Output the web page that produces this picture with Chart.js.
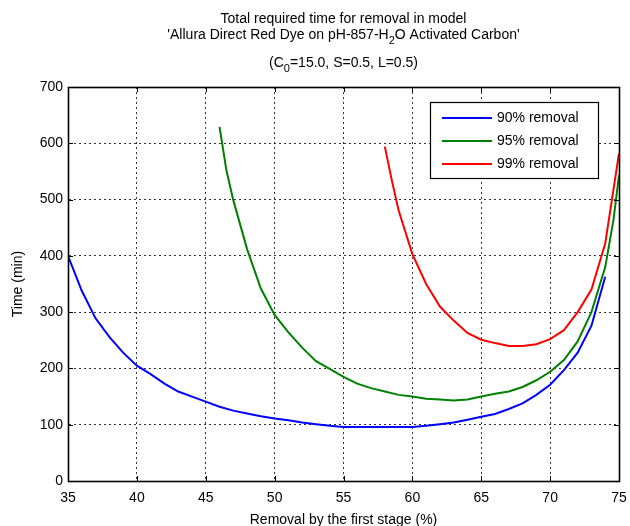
<!DOCTYPE html>
<html>
<head>
<meta charset="utf-8">
<script src="https://cdn.jsdelivr.net/npm/chart.js@4"></script>
<style>
  body { margin: 0; background: #fff; }
  #wrap { width: 630px; height: 526px; }
</style>
</head>
<body>
<div id="wrap"><canvas id="chartTime" width="630" height="526"></canvas></div>
<script>
// values
const blueX = [35,36,37,38,39,40,41,42,43,44,45,46,47,48,49,50,51,52,53,54,55,56,57,58,59,60,61,62,63,64,65,66,67,68,69,70,71,72,73,74];
const blueY = [400,338,289,256,228,205,190,173,159,150,141,132,125,120,115,111,108,104,101,98,96,96,96,96,96,96,98,101,104,109,114,119,128,138,153,171,197,228,276,363];

const greenX = [46,46.5,47,48,49,50,51,52,53,54,55,56,57,58,59,60,61,62,63,64,65,66,67,68,69,70,71,72,73,74,74.6,75];
const greenY = [629,552,499,412,342,295,264,237,213,199,185,173,165,159,153,150,146,145,143,145,150,155,159,167,179,194,215,248,300,380,464,543];

const redX = [58,58.5,59,60,61,62,63,64,65,66,67,68,69,70,71,72,73,74,75];
const redY = [594,535,481,403,350,310,285,263,251,245,240,240,243,252,268,300,340,422,582];

const seriesNames = ['90% removal', '95% removal', '99% removal'];
const seriesColors = ['#0000ff', '#008000', '#ff0000'];
const xTicks = [35,40,45,50,55,60,65,70,75];
const yTicks = [0,100,200,300,400,500,600,700];

const FONT = 'Liberation Sans, Arial, Helvetica, sans-serif';

function pairs(xs, ys) {
  return xs.map((x, i) => ({ x: x, y: ys[i] }));
}

// title with subscripts, drawn line by line
const titlePlugin = {
  id: 'titleLines',
  afterDraw(chart) {
    const ctx = chart.ctx;
    const area = chart.chartArea;
    const cx = (area.left + area.right) / 2;
    const lines = [
      { y: 23, parts: [['Total required time for removal in model', false]] },
      { y: 39, parts: [["'Allura Direct Red Dye on pH-857-H", false], ['2', true], ["O Activated Carbon'", false]] },
      { y: 67, parts: [['(C', false], ['0', true], ['=15.0, S=0.5, L=0.5)', false]] }
    ];
    ctx.save();
    ctx.fillStyle = '#000';
    ctx.textBaseline = 'alphabetic';
    ctx.textAlign = 'left';
    lines.forEach(line => {
      let w = 0;
      line.parts.forEach(p => {
        ctx.font = (p[1] ? 11 : 14) + 'px ' + FONT;
        w += ctx.measureText(p[0]).width;
      });
      let x = cx - w / 2;
      line.parts.forEach(p => {
        ctx.font = (p[1] ? 11 : 14) + 'px ' + FONT;
        ctx.fillText(p[0], x, line.y + (p[1] ? 5 : 0));
        x += ctx.measureText(p[0]).width;
      });
    });
    ctx.restore();
  }
};

// frame, inward ticks and legend box
const framePlugin = {
  id: 'frame',
  afterDraw(chart) {
    const ctx = chart.ctx;
    const a = chart.chartArea;
    const xs = chart.scales.x, ys = chart.scales.y;
    ctx.save();
    ctx.strokeStyle = '#000';
    ctx.lineWidth = 1.6;
    ctx.strokeRect(a.left + 0.5, a.top + 0.5, a.right - a.left, a.bottom - a.top);
    ctx.lineWidth = 1;
    ctx.beginPath();
    xTicks.forEach(v => {
      const px = Math.round(xs.getPixelForValue(v)) + 0.5;
      ctx.moveTo(px, a.bottom); ctx.lineTo(px, a.bottom - 5);
      ctx.moveTo(px, a.top); ctx.lineTo(px, a.top + 5);
    });
    yTicks.forEach(v => {
      const py = Math.round(ys.getPixelForValue(v)) + 0.5;
      ctx.moveTo(a.left, py); ctx.lineTo(a.left + 5, py);
      ctx.moveTo(a.right, py); ctx.lineTo(a.right - 5, py);
    });
    ctx.stroke();

    // legend
    const lx = 430, ly = 102, lw = 168, lh = 76;
    ctx.fillStyle = '#fff';
    ctx.fillRect(lx, ly, lw, lh);
    ctx.lineWidth = 1.2;
    ctx.strokeRect(lx + 0.5, ly + 0.5, lw, lh);
    ctx.font = '14px ' + FONT;
    ctx.textBaseline = 'middle';
    seriesNames.forEach((name, i) => {
      const y = 118 + i * 23;
      ctx.strokeStyle = seriesColors[i];
      ctx.lineWidth = 2;
      ctx.beginPath();
      ctx.moveTo(442, y); ctx.lineTo(492, y);
      ctx.stroke();
      ctx.fillStyle = '#000';
      ctx.fillText(name, 497, y);
    });
    ctx.restore();
  }
};

const ctx = document.getElementById('chartTime').getContext('2d');
const chartTime = new Chart(ctx, {
  type: 'line',
  data: {
    datasets: [
      { label: seriesNames[0], data: pairs(blueX, blueY), borderColor: seriesColors[0] },
      { label: seriesNames[1], data: pairs(greenX, greenY), borderColor: seriesColors[1] },
      { label: seriesNames[2], data: pairs(redX, redY), borderColor: seriesColors[2] }
    ].map(d => Object.assign(d, { borderWidth: 2, pointRadius: 0, tension: 0, fill: false }))
  },
  options: {
    responsive: false,
    animation: false,
    layout: { padding: { top: 87, right: 11, left: 0, bottom: 0 } },
    plugins: { legend: { display: false }, title: { display: false }, tooltip: { enabled: false } },
    scales: {
      x: {
        type: 'linear', min: 35, max: 75,
        afterBuildTicks: s => { s.ticks = xTicks.map(v => ({ value: v })); },
        afterFit: s => { s.height = 45; s.paddingRight = 0; },
        ticks: { color: '#000', font: { family: FONT, size: 14 }, padding: 9, maxRotation: 0 },
        grid: { color: '#000', lineWidth: 0.8, drawTicks: false },
        border: { color: '#000', dash: [2, 3] },
        title: { display: true, text: 'Removal by the first stage (%)', color: '#000', font: { family: FONT, size: 14, lineHeight: 0.85 }, padding: 0 }
      },
      y: {
        type: 'linear', min: 0, max: 700,
        afterBuildTicks: s => { s.ticks = yTicks.map(v => ({ value: v })); },
        afterFit: s => { s.width = 68; },
        ticks: { color: '#000', font: { family: FONT, size: 14 }, padding: 5 },
        grid: { color: '#000', lineWidth: 0.8, drawTicks: false },
        border: { color: '#000', dash: [2, 3] },
        title: { display: true, text: 'Time (min)', color: '#000', font: { family: FONT, size: 14 }, padding: { top: 10, bottom: 0 } }
      }
    }
  },
  plugins: [titlePlugin, framePlugin]
});
</script>
</body>
</html>
